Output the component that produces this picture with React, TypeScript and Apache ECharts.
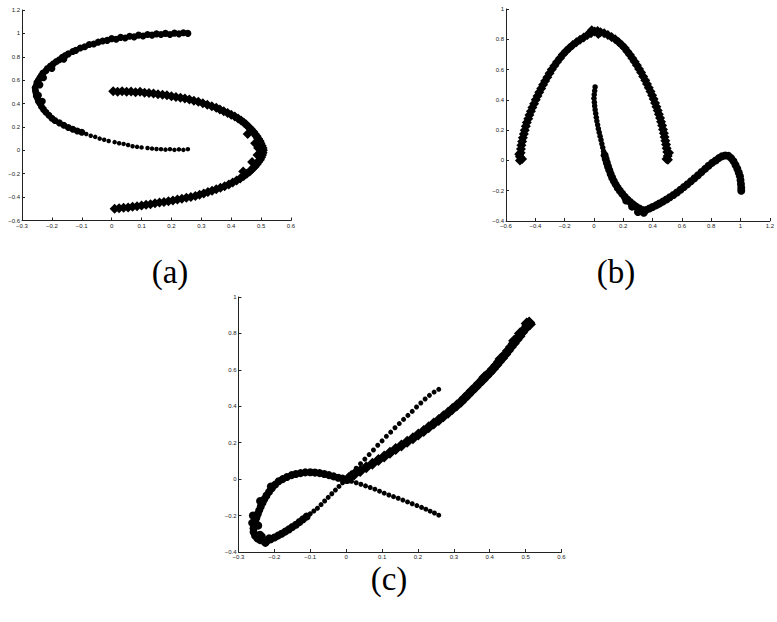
import React, { useEffect, useRef } from "react";
import * as echarts from "echarts";

// ---- (a) S-shaped pair of moons ----
const aUpperBand: number[][] = [
  [0.255, 1.0], [0.24, 1.006], [0.225, 0.996], [0.21, 1.002], [0.195, 0.99], [0.18, 1.0], [0.165, 0.99],
  [0.15, 0.996], [0.135, 0.985], [0.12, 0.99], [0.105, 0.978], [0.09, 0.985], [0.075, 0.97], [0.06, 0.976],
  [0.045, 0.96], [0.03, 0.966], [0.015, 0.95], [0.0, 0.955], [-0.015, 0.94], [-0.03, 0.935], [-0.045, 0.925],
  [-0.06, 0.91], [-0.075, 0.905], [-0.09, 0.885], [-0.105, 0.875], [-0.12, 0.855], [-0.13, 0.845],
  [-0.145, 0.825], [-0.155, 0.81], [-0.165, 0.795], [-0.175, 0.775], [-0.185, 0.76], [-0.195, 0.74],
  [-0.205, 0.72], [-0.215, 0.7], [-0.22, 0.68], [-0.23, 0.66], [-0.235, 0.64], [-0.24, 0.62], [-0.245, 0.6],
  [-0.25, 0.58], [-0.252, 0.555], [-0.256, 0.535], [-0.255, 0.51], [-0.253, 0.49], [-0.252, 0.465],
  [-0.248, 0.445], [-0.245, 0.42], [-0.24, 0.4], [-0.235, 0.375], [-0.228, 0.35], [-0.22, 0.325],
  [-0.21, 0.3], [-0.2, 0.275], [-0.19, 0.255], [-0.175, 0.235], [-0.16, 0.215], [-0.145, 0.195],
  [-0.13, 0.18], [-0.115, 0.165], [-0.1, 0.155],
  [-0.24, 0.56], [-0.245, 0.47], [-0.232, 0.42], [-0.2, 0.7], [-0.16, 0.78], [-0.228, 0.62],
];
const aUpperTail: number[][] = [
  [-0.085, 0.14], [-0.07, 0.125], [-0.055, 0.115], [-0.04, 0.1], [-0.025, 0.09], [-0.01, 0.08],
  [0.01, 0.07], [0.025, 0.06], [0.04, 0.055], [0.055, 0.045], [0.07, 0.035], [0.085, 0.03],
  [0.1, 0.025], [0.12, 0.02], [0.135, 0.015], [0.15, 0.012], [0.165, 0.01], [0.18, 0.006],
  [0.195, 0.01], [0.21, 0.004], [0.225, 0.008], [0.24, 0.004], [0.255, 0.01],
];
const aLowerBand: number[][] = [
  [0.005, 0.505], [0.02, 0.5], [0.035, 0.506], [0.05, 0.5], [0.065, 0.503], [0.08, 0.497], [0.095, 0.5],
  [0.11, 0.493], [0.125, 0.49], [0.14, 0.487], [0.155, 0.48], [0.17, 0.475], [0.185, 0.47], [0.2, 0.462],
  [0.215, 0.455], [0.23, 0.45], [0.245, 0.443], [0.26, 0.435], [0.275, 0.425], [0.29, 0.415],
  [0.305, 0.403], [0.32, 0.39], [0.335, 0.378], [0.35, 0.365], [0.362, 0.35], [0.375, 0.335],
  [0.388, 0.32], [0.4, 0.305], [0.412, 0.29], [0.423, 0.272], [0.433, 0.255], [0.442, 0.237],
  [0.45, 0.22], [0.458, 0.2], [0.466, 0.18], [0.473, 0.16], [0.479, 0.14], [0.485, 0.12], [0.49, 0.1],
  [0.495, 0.08], [0.498, 0.06], [0.502, 0.04], [0.505, 0.02], [0.506, 0.0], [0.505, -0.02],
  [0.503, -0.04], [0.5, -0.06], [0.496, -0.08], [0.49, -0.1], [0.485, -0.12], [0.478, -0.14],
  [0.47, -0.16], [0.462, -0.18], [0.452, -0.2], [0.442, -0.22], [0.43, -0.24], [0.418, -0.258],
  [0.405, -0.275], [0.392, -0.292], [0.378, -0.307], [0.364, -0.32], [0.35, -0.333], [0.336, -0.345],
  [0.322, -0.357], [0.308, -0.37], [0.294, -0.38], [0.28, -0.39], [0.265, -0.398], [0.25, -0.406],
  [0.235, -0.413], [0.22, -0.42], [0.205, -0.428], [0.19, -0.435], [0.175, -0.441], [0.16, -0.447],
  [0.145, -0.453], [0.13, -0.46], [0.115, -0.466], [0.1, -0.472], [0.085, -0.478], [0.07, -0.483],
  [0.055, -0.488], [0.04, -0.492], [0.025, -0.496], [0.01, -0.5],
  [0.49, 0.02], [0.488, -0.04], [0.48, 0.06], [0.47, -0.1], [0.455, 0.14], [0.44, -0.18],
];

// ---- (b) arch and wave ----
const bArch: number[][] = [
  [-0.505, 0.0], [-0.505, 0.025], [-0.5, 0.05], [-0.498, 0.075], [-0.495, 0.1], [-0.49, 0.125],
  [-0.485, 0.15], [-0.478, 0.175], [-0.472, 0.2], [-0.465, 0.225], [-0.458, 0.25], [-0.448, 0.275],
  [-0.44, 0.3], [-0.43, 0.325], [-0.42, 0.35], [-0.408, 0.375], [-0.397, 0.4], [-0.385, 0.425],
  [-0.373, 0.45], [-0.36, 0.475], [-0.347, 0.5], [-0.333, 0.525], [-0.318, 0.55], [-0.303, 0.575],
  [-0.288, 0.6], [-0.27, 0.625], [-0.252, 0.65], [-0.232, 0.675], [-0.212, 0.7], [-0.19, 0.722],
  [-0.168, 0.742], [-0.145, 0.762], [-0.12, 0.78], [-0.095, 0.797], [-0.07, 0.812], [-0.045, 0.828],
  [-0.02, 0.84], [0.005, 0.852], [0.025, 0.854], [0.045, 0.847], [0.07, 0.84], [0.095, 0.828],
  [0.12, 0.815], [0.145, 0.8], [0.168, 0.782], [0.19, 0.762], [0.21, 0.742], [0.228, 0.72],
  [0.245, 0.698], [0.262, 0.675], [0.278, 0.652], [0.293, 0.628], [0.308, 0.604], [0.322, 0.58],
  [0.336, 0.555], [0.35, 0.53], [0.362, 0.505], [0.374, 0.48], [0.386, 0.455], [0.397, 0.43],
  [0.407, 0.405], [0.417, 0.38], [0.426, 0.355], [0.435, 0.33], [0.443, 0.305], [0.451, 0.28],
  [0.458, 0.255], [0.465, 0.23], [0.471, 0.205], [0.477, 0.18], [0.482, 0.155], [0.487, 0.13],
  [0.492, 0.105], [0.496, 0.08], [0.5, 0.055], [0.503, 0.03], [0.505, 0.005],
  [-0.49, 0.01], [-0.51, 0.04], [0.495, 0.01], [0.512, 0.05], [-0.015, 0.86], [0.03, 0.835],
];
const bWaveTop: number[][] = [
  [0.008, 0.485], [0.005, 0.46], [0.002, 0.435], [0.0, 0.41], [0.003, 0.385], [0.005, 0.36],
  [0.008, 0.335], [0.012, 0.31], [0.016, 0.285], [0.02, 0.26], [0.025, 0.235], [0.03, 0.21],
  [0.036, 0.185], [0.042, 0.16], [0.048, 0.135], [0.054, 0.11], [0.06, 0.085], [0.066, 0.06],
];
const bWave: number[][] = [
  [0.073, 0.035], [0.08, 0.01], [0.088, -0.015], [0.096, -0.04], [0.105, -0.065], [0.114, -0.09],
  [0.124, -0.113], [0.135, -0.135], [0.148, -0.158], [0.162, -0.18], [0.177, -0.2], [0.193, -0.22],
  [0.21, -0.24], [0.228, -0.258], [0.247, -0.275], [0.267, -0.29], [0.288, -0.305], [0.31, -0.318],
  [0.332, -0.328], [0.355, -0.328], [0.378, -0.318], [0.4, -0.308], [0.423, -0.297], [0.446, -0.285],
  [0.47, -0.272], [0.494, -0.258], [0.518, -0.243], [0.542, -0.228], [0.566, -0.212], [0.59, -0.194],
  [0.614, -0.176], [0.638, -0.157], [0.662, -0.138], [0.686, -0.118], [0.71, -0.098], [0.734, -0.077],
  [0.758, -0.056], [0.782, -0.035], [0.806, -0.016], [0.83, 0.0], [0.852, 0.015], [0.874, 0.028],
  [0.896, 0.033], [0.918, 0.03], [0.936, 0.015], [0.952, -0.005], [0.966, -0.03], [0.978, -0.055],
  [0.988, -0.08], [0.996, -0.105], [1.0, -0.13], [1.003, -0.155], [1.005, -0.18], [1.005, -0.2],
  [0.3, -0.34], [0.34, -0.345], [0.26, -0.305], [0.22, -0.265],
];

// ---- (c) nonlinear embedding ----
const cBand: number[][] = [
  [0.51, 0.86], [0.505, 0.845], [0.498, 0.825], [0.49, 0.805], [0.483, 0.785], [0.475, 0.765],
  [0.467, 0.745], [0.459, 0.725], [0.451, 0.705], [0.443, 0.685], [0.435, 0.665], [0.426, 0.645],
  [0.418, 0.625], [0.409, 0.605], [0.4, 0.585], [0.39, 0.565], [0.38, 0.545], [0.37, 0.525],
  [0.36, 0.505], [0.35, 0.485], [0.34, 0.465], [0.33, 0.445], [0.32, 0.425], [0.308, 0.405],
  [0.296, 0.385], [0.284, 0.365], [0.271, 0.345], [0.258, 0.325], [0.244, 0.305], [0.23, 0.285],
  [0.216, 0.265], [0.201, 0.245], [0.186, 0.225], [0.17, 0.205], [0.154, 0.185], [0.138, 0.165],
  [0.122, 0.145], [0.106, 0.125], [0.09, 0.105], [0.073, 0.085], [0.056, 0.065], [0.039, 0.045],
  [0.022, 0.025], [0.008, 0.008],
  [0.503, 0.855], [0.512, 0.85], [0.484, 0.8], [0.468, 0.76], [0.43, 0.66], [0.385, 0.56],
];
const cTrailUp: number[][] = [
  [0.258, 0.493], [0.245, 0.478], [0.232, 0.46], [0.22, 0.44], [0.208, 0.418], [0.196, 0.396],
  [0.184, 0.372], [0.172, 0.35], [0.16, 0.328], [0.148, 0.305], [0.136, 0.282], [0.124, 0.258],
  [0.112, 0.235], [0.1, 0.21], [0.088, 0.186], [0.076, 0.16], [0.064, 0.135], [0.052, 0.11],
  [0.04, 0.085], [0.028, 0.06], [0.016, 0.035], [0.005, 0.012],
  [-0.01, -0.02], [-0.02, -0.04], [-0.03, -0.06], [-0.04, -0.08], [-0.05, -0.1], [-0.06, -0.12],
  [-0.07, -0.14], [-0.08, -0.16], [-0.09, -0.175], [-0.1, -0.19],
];
const cLoop: number[][] = [
  [-0.11, -0.205], [-0.12, -0.22], [-0.13, -0.235], [-0.14, -0.25], [-0.15, -0.263], [-0.16, -0.276],
  [-0.17, -0.288], [-0.18, -0.3], [-0.19, -0.31], [-0.2, -0.32], [-0.21, -0.33], [-0.22, -0.338],
  [-0.23, -0.34], [-0.24, -0.335], [-0.248, -0.325], [-0.254, -0.31], [-0.258, -0.29], [-0.258, -0.27],
  [-0.256, -0.25], [-0.253, -0.23], [-0.25, -0.21], [-0.246, -0.19], [-0.242, -0.17], [-0.238, -0.15],
  [-0.233, -0.13], [-0.228, -0.11], [-0.222, -0.09], [-0.215, -0.07], [-0.207, -0.05], [-0.198, -0.03],
  [-0.188, -0.012], [-0.177, 0.0], [-0.165, 0.012], [-0.152, 0.022], [-0.14, 0.028], [-0.127, 0.033],
  [-0.114, 0.037], [-0.1, 0.038], [-0.087, 0.036], [-0.074, 0.033], [-0.061, 0.028], [-0.048, 0.022],
  [-0.035, 0.015], [-0.022, 0.008], [-0.01, 0.003], [0.002, -0.005],
  [-0.225, -0.35], [-0.215, -0.325], [-0.24, -0.305], [-0.262, -0.24], [-0.245, -0.255],
  [-0.235, -0.315], [-0.26, -0.2], [-0.24, -0.12], [-0.21, -0.04],
];
const cTrailDown: number[][] = [
  [0.015, -0.012], [0.028, -0.02], [0.041, -0.028], [0.054, -0.037], [0.067, -0.046], [0.08, -0.055],
  [0.093, -0.066], [0.106, -0.077], [0.119, -0.087], [0.132, -0.096], [0.145, -0.105], [0.158, -0.115],
  [0.171, -0.125], [0.184, -0.135], [0.197, -0.145], [0.21, -0.155], [0.222, -0.165], [0.234, -0.176],
  [0.246, -0.186], [0.258, -0.198],
];

// axis ranges: [min, max, interval]
const aX = [-0.3, 0.6, 0.1];
const aY = [-0.6, 1.2, 0.2];
const bX = [-0.6, 1.2, 0.2];
const bY = [-0.4, 1.0, 0.2];
const cX = [-0.3, 0.6, 0.1];
const cY = [-0.4, 1.0, 0.2];

const panelLabels = ["(a)", "(b)", "(c)"];

const fmt = (v: number) => {
  const r = Math.round(v * 10) / 10;
  return (r < 0 ? "\u2212" : "") + String(Math.abs(r));
};

const axisCommon = {
  axisLine: { show: true, onZero: false, lineStyle: { color: "#222", width: 1 } },
  axisTick: { show: true, inside: true, length: 3, lineStyle: { color: "#222" } },
  axisLabel: {
    fontSize: 6,
    color: "#222",
    fontFamily: "Liberation Sans, Arial, sans-serif",
    margin: 2,
    formatter: fmt,
  },
  splitLine: { show: false },
};

function makeAxis(gridIndex: number, r: number[]) {
  return { type: "value", gridIndex, min: r[0], max: r[1], interval: r[2], ...axisCommon };
}

function dots(data: number[][], idx: number, size: number, symbol = "circle") {
  return {
    type: "scatter",
    xAxisIndex: idx,
    yAxisIndex: idx,
    data,
    symbol,
    symbolSize: size,
    itemStyle: { color: "#000", opacity: 1 },
    silent: true,
    emphasis: { disabled: true },
  };
}

export default function App() {
  const ref = useRef<HTMLDivElement>(null);

  useEffect(() => {
    if (!ref.current) return;
    const chart = echarts.init(ref.current, undefined, { renderer: "svg" });
    const labelFont = { fontSize: 33, fontFamily: "Liberation Serif, serif", fill: "#000", align: "center", verticalAlign: "middle" };
    chart.setOption({
      animation: false,
      backgroundColor: "#fff",
      grid: [
        { left: 22, top: 10, width: 269, height: 210.5 },
        { left: 506, top: 9, width: 269.5, height: 212 },
        { left: 238.5, top: 297, width: 323, height: 255 },
      ],
      xAxis: [makeAxis(0, aX), makeAxis(1, bX), makeAxis(2, cX)],
      yAxis: [makeAxis(0, aY), makeAxis(1, bY), makeAxis(2, cY)],
      series: [
        dots(aUpperBand, 0, 7),
        dots(aUpperTail, 0, 4.5),
        dots(aLowerBand, 0, 10, "diamond"),
        dots(bArch, 1, 10, "diamond"),
        dots(bWaveTop, 1, 5.5),
        dots(bWave, 1, 8),
        dots(cBand, 2, 12, "diamond"),
        dots(cTrailUp, 2, 5),
        dots(cLoop, 2, 8),
        dots(cTrailDown, 2, 5),
      ],
      graphic: [
        { type: "text", x: 170, y: 272, style: { text: panelLabels[0], ...labelFont } },
        { type: "text", x: 616, y: 272, style: { text: panelLabels[1], ...labelFont } },
        { type: "text", x: 389, y: 579, style: { text: panelLabels[2], ...labelFont } },
      ],
    });
    return () => chart.dispose();
  }, []);

  return (
    <div
      ref={ref}
      style={{ position: "fixed", left: 0, top: 0, width: 777, height: 622, background: "#fff" }}
    />
  );
}
